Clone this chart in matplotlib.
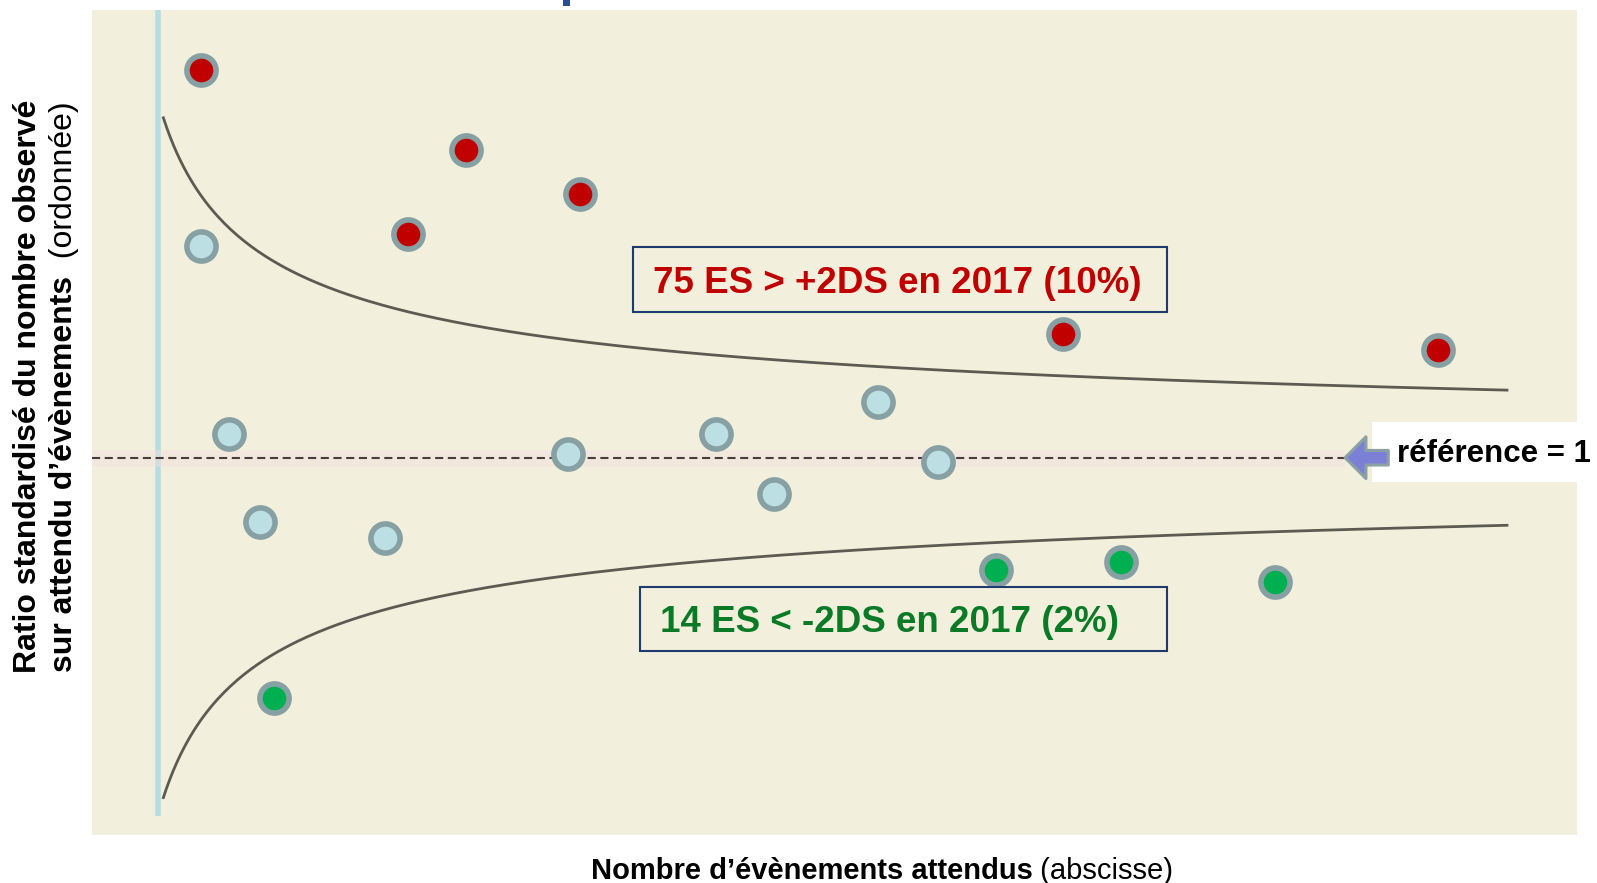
import matplotlib
matplotlib.use('Agg')
import matplotlib.pyplot as plt
import numpy as np
from matplotlib.patches import Rectangle

plt.rcParams['font.family'] = ['Liberation Sans', 'DejaVu Sans']

# valeurs (x = nombre attendu, y = ratio standardise)
attendus_rouge = [3.2, 22.8, 18.5, 31.3, 67.1, 94.9]
ratio_rouge = [1.97, 1.77, 1.56, 1.66, 1.31, 1.27]
attendus_bleu = [3.2, 5.3, 7.6, 16.8, 30.4, 41.4, 45.7, 53.4, 57.8]
ratio_bleu = [1.53, 1.06, 0.84, 0.80, 1.01, 1.06, 0.91, 1.14, 0.99]
attendus_vert = [8.6, 62.1, 71.4, 82.8]
ratio_vert = [0.40, 0.72, 0.74, 0.69]
reference = 1.0
z = 2
sd_coef = 0.86
decalage = 3.7
e_min, e_max = 0.4, 100
fleche_x = [88.0, 91.2]

texte_haut = "75 ES > +2DS en 2017 (10%)"
texte_bas = "14 ES < -2DS en 2017 (2%)"
texte_ref = "référence = 1"

W, H = 1597, 883
fig = plt.figure(figsize=(W / 100, H / 100), dpi=100)
fig.patch.set_facecolor('white')


def px(x, y):
    return x / W, 1 - y / H


ax = fig.add_axes([92 / W, 1 - 835 / H, (1577 - 92) / W, (835 - 10) / H])
ax.set_facecolor('#f2f0dc')
ax.set_xticks([])
ax.set_yticks([])
for s in ax.spines.values():
    s.set_visible(False)
ax.set_xlim(-4.89, 105.19)
ax.set_ylim(0.057, 2.119)

# limites du funnel
E = np.linspace(e_min, e_max, 400)
sd = sd_coef / np.sqrt(E + decalage)
ax.plot(E, reference + z * sd, color='#4d4b42', lw=2, alpha=0.9, zorder=3)
ax.plot(E, reference - z * sd, color='#4d4b42', lw=2, alpha=0.9, zorder=3)

# axe vertical bleu clair
ax.vlines(0, 0.105, 2.119, colors='#b7dde3', lw=4, zorder=2)

# ligne de reference
ax.hlines(reference, -4.89, fleche_x[0], colors='#f3dede', lw=12, alpha=0.45, zorder=2)
ax.hlines(reference, -4.89, fleche_x[0], colors='#4a3c3c', lw=1.5,
          linestyles=(0, (3.9, 2.2)), zorder=3)

# points
st = dict(linestyle='none', marker='o', ms=21, mew=4, mec='#87a0a3', zorder=4)
ax.plot(attendus_bleu, ratio_bleu, mfc='#bcdfe3', **st)
ax.plot(attendus_rouge, ratio_rouge, mfc='#c00000', **st)
ax.plot(attendus_vert, ratio_vert, mfc='#00b050', **st)

# boite blanche + fleche
fond = Rectangle(px(1372, 482), (1597 - 1372) / W, 60 / H, transform=fig.transFigure,
                 facecolor='white', edgecolor='none', zorder=4.5, clip_on=False)
ax.add_patch(fond)
ax.annotate('', xy=(fleche_x[0], reference), xytext=(fleche_x[1], reference),
            arrowprops=dict(arrowstyle='simple,head_length=0.5,head_width=1.0,tail_width=0.35',
                            fc='#7b7fd6', ec='#8aa0a3', lw=2.2, shrinkA=0, shrinkB=0,
                            mutation_scale=30),
            annotation_clip=False, zorder=6)
fig.text(*px(1397, 454), texte_ref, fontsize=22.5, fontweight='bold', color='black',
         ha='left', va='center', zorder=7)

# encadres
fig.add_artist(Rectangle(px(633, 311.7), (1167 - 633) / W, 64.4 / H, transform=fig.transFigure,
                         fill=False, edgecolor='#1f3a6e', lw=1.5))
fig.text(*px(653, 283), texte_haut, fontsize=26.5, fontweight='bold', color='#c00000',
         ha='left', va='center')
fig.add_artist(Rectangle(px(640, 650.8), (1167 - 640) / W, 64.1 / H, transform=fig.transFigure,
                         fill=False, edgecolor='#1f3a6e', lw=1.5))
fig.text(*px(660, 622), texte_bas, fontsize=26.5, fontweight='bold', color='#0a7a26',
         ha='left', va='center')

# petit fragment du titre coupe en haut
fig.add_artist(Rectangle(px(563, 6), 7 / W, 6 / H, transform=fig.transFigure,
                         facecolor='#2a4d96', edgecolor='none'))

# etiquettes d'axes
fig.canvas.draw()
r = fig.canvas.get_renderer()

# x : partie grasse + partie normale, centrees
t1 = fig.text(0, 0, "Nombre d’évènements attendus", fontsize=21, fontweight='bold',
              ha='left', va='center')
t2 = fig.text(0, 0, " (abscisse)", fontsize=21, ha='left', va='center')
w1 = t1.get_window_extent(r).width
w2 = t2.get_window_extent(r).width
x0 = 882 - (w1 + w2) / 2
t1.set_position(px(x0, 871))
t2.set_position(px(x0 + w1, 871))

# y : deux lignes
fig.text(*px(28, 673), "Ratio standardisé du nombre observé", fontsize=23,
         fontweight='bold', rotation=90, rotation_mode='anchor', ha='left', va='center')
t3 = fig.text(*px(64, 672), "sur attendu d’évènements", fontsize=23, fontweight='bold',
              rotation=90, rotation_mode='anchor', ha='left', va='center')
h3 = t3.get_window_extent(r).height
fig.text(*px(64, 672 - h3), "  (ordonnée)", fontsize=23, rotation=90,
         rotation_mode='anchor', ha='left', va='center')

fig.savefig('out.png', dpi=100, facecolor='white')
